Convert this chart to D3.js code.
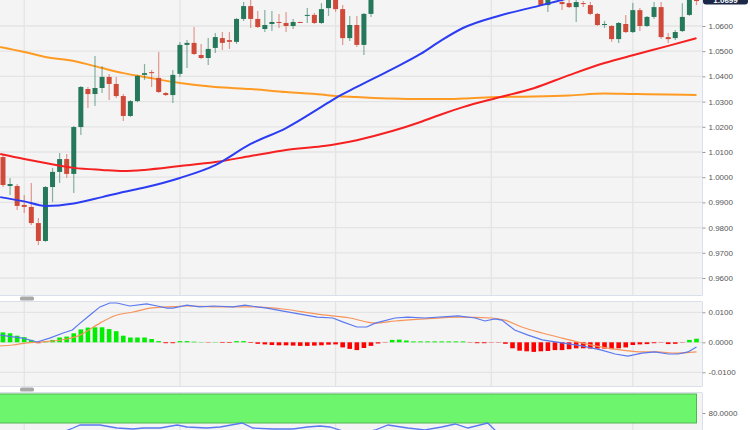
<!DOCTYPE html>
<html lang="en">

<head>
    <meta charset="UTF-8">
    <script src="https://d3js.org/d3.v7.min.js"></script>
    <title>EUR/USD daily</title>
    <style>
        body {
            margin: 0;
            background: #fff;
        }

        svg {
            display: block;
            font-family: "Liberation Sans", Arial, sans-serif;
        }

        .axis text {
            font-size: 8px;
            fill: #555;
        }

        .axis line {
            stroke: #999;
        }
    </style>
</head>

<body>
    <script>
        // daily candles (index 0 = first candle on the left)
        var opens = [
            1.0080, 0.9965, 0.9965, 0.9890, 0.9882, 0.9818, 0.9747, 0.9961, 1.0021, 1.0072,
            1.0013, 1.0199, 1.0350, 1.0330, 1.0354, 1.0398, 1.0370, 1.0322, 1.0243, 1.0302,
            1.0406, 1.0417, 1.0394, 1.0334, 1.0326, 1.0410, 1.0525, 1.0533, 1.0485, 1.0473,
            1.0513, 1.0552, 1.0544, 1.0537, 1.0628, 1.0679, 1.0628, 1.0588, 1.0608, 1.0616,
            1.0612, 1.0600, 1.0616, 1.0640, 1.0644, 1.0612, 1.0671, 1.0730, 1.0667, 1.0552,
            1.0604, 1.0525, 1.0648, 1.0745, 1.0770, 1.0752, 1.0785, 1.0822, 1.0858, 1.0830,
            1.0845, 1.0872, 1.0860, 1.0868, 1.0905, 1.0885, 1.0898, 1.0855, 1.0862, 1.0840,
            1.0915, 1.0870, 1.0810, 1.0775, 1.0790, 1.0755, 1.0745, 1.0683, 1.0720, 1.0695,
            1.0691, 1.0675, 1.0691, 1.0683, 1.0648, 1.0604, 1.0600, 1.0548, 1.0608, 1.0576,
            1.0663, 1.0600, 1.0636, 1.0675, 1.0556, 1.0552, 1.0580, 1.0644, 1.0735
        ];
        var highs = [
            1.0088, 0.9997, 0.9973, 0.9929, 0.9977, 0.9838, 0.9965, 1.0037, 1.0096, 1.0092,
            1.0203, 1.0362, 1.0358, 1.0481, 1.0441, 1.0410, 1.0398, 1.0330, 1.0306, 1.0406,
            1.0449, 1.0425, 1.0497, 1.0338, 1.0425, 1.0537, 1.0544, 1.0596, 1.0529, 1.0552,
            1.0572, 1.0576, 1.0576, 1.0632, 1.0695, 1.0710, 1.0660, 1.0663, 1.0660, 1.0648,
            1.0656, 1.0628, 1.0617, 1.0671, 1.0652, 1.0691, 1.0760, 1.0765, 1.0683, 1.0640,
            1.0640, 1.0652, 1.0770, 1.0790, 1.0805, 1.0798, 1.0835, 1.0870, 1.0875, 1.0862,
            1.0890, 1.0905, 1.0880, 1.0925, 1.0930, 1.0910, 1.0912, 1.0880, 1.0890, 1.0928,
            1.0932, 1.0885, 1.0835, 1.0800, 1.0805, 1.0790, 1.0770, 1.0745, 1.0760, 1.0712,
            1.0705, 1.0703, 1.0699, 1.0695, 1.0652, 1.0620, 1.0604, 1.0616, 1.0644, 1.0691,
            1.0671, 1.0640, 1.0695, 1.0695, 1.0572, 1.0584, 1.0690, 1.0735, 1.0740
        ];
        var lows = [
            0.9961, 0.9929, 0.9870, 0.9858, 0.9810, 0.9731, 0.9743, 0.9902, 0.9977, 0.9997,
            0.9937, 1.0167, 1.0275, 1.0283, 1.0334, 1.0306, 1.0314, 1.0223, 1.0239, 1.0298,
            1.0386, 1.0358, 1.0334, 1.0322, 1.0294, 1.0398, 1.0433, 1.0485, 1.0469, 1.0445,
            1.0493, 1.0505, 1.0509, 1.0529, 1.0620, 1.0592, 1.0592, 1.0576, 1.0580, 1.0592,
            1.0576, 1.0588, 1.0614, 1.0612, 1.0608, 1.0608, 1.0640, 1.0656, 1.0525, 1.0540,
            1.0517, 1.0485, 1.0636, 1.0725, 1.0740, 1.0730, 1.0770, 1.0800, 1.0810, 1.0795,
            1.0830, 1.0850, 1.0835, 1.0855, 1.0870, 1.0860, 1.0845, 1.0825, 1.0835, 1.0832,
            1.0860, 1.0800, 1.0765, 1.0745, 1.0740, 1.0730, 1.0679, 1.0656, 1.0708, 1.0663,
            1.0671, 1.0616, 1.0675, 1.0644, 1.0600, 1.0592, 1.0537, 1.0533, 1.0572, 1.0572,
            1.0580, 1.0596, 1.0628, 1.0548, 1.0533, 1.0544, 1.0576, 1.0640, 1.0683
        ];
        var closes = [
            0.9969, 0.9973, 0.9886, 0.9882, 0.9818, 0.9747, 0.9961, 1.0021, 1.0072, 1.0013,
            1.0199, 1.0358, 1.0330, 1.0354, 1.0398, 1.0370, 1.0322, 1.0243, 1.0302, 1.0402,
            1.0413, 1.0413, 1.0338, 1.0326, 1.0406, 1.0525, 1.0533, 1.0489, 1.0473, 1.0509,
            1.0556, 1.0533, 1.0537, 1.0628, 1.0679, 1.0628, 1.0596, 1.0604, 1.0616, 1.0612,
            1.0600, 1.0616, 1.0615, 1.0644, 1.0612, 1.0667, 1.0735, 1.0667, 1.0552, 1.0604,
            1.0525, 1.0648, 1.0745, 1.0770, 1.0752, 1.0785, 1.0822, 1.0858, 1.0830, 1.0845,
            1.0872, 1.0860, 1.0868, 1.0905, 1.0885, 1.0898, 1.0855, 1.0862, 1.0840, 1.0915,
            1.0870, 1.0810, 1.0775, 1.0790, 1.0755, 1.0745, 1.0683, 1.0720, 1.0735, 1.0687,
            1.0675, 1.0695, 1.0687, 1.0648, 1.0604, 1.0608, 1.0548, 1.0612, 1.0576, 1.0663,
            1.0600, 1.0636, 1.0675, 1.0556, 1.0548, 1.0576, 1.0636, 1.0720, 1.0699
        ];

        // moving averages, sampled at candle indices
        var maIdx = [-0.4, 3, 6, 10, 14, 17, 20, 25, 30, 35, 40, 45, 47, 50, 55, 59, 62, 65, 70, 75, 80, 85, 89, 94, 98];
        var sma50 = [0.9921, 0.9904, 0.9886, 0.9896, 0.9921, 0.9941, 0.9959, 0.9997, 1.0048, 1.0132, 1.0195, 1.0279, 1.0314,
            1.0358, 1.0429, 1.0489, 1.0544, 1.0592, 1.0640, 1.0675, 1.0711, 1.0751, 1.0775, 1.0790, 1.0802];
        var sma100 = [1.0092, 1.0072, 1.0056, 1.0037, 1.0029, 1.0025, 1.0029, 1.0044, 1.0060, 1.0084, 1.0108, 1.0123, 1.0131,
            1.0147, 1.0183, 1.0219, 1.0250, 1.0278, 1.0316, 1.0353, 1.0405, 1.0453, 1.0484, 1.0521, 1.0552];
        var sma200 = [1.0517, 1.0497, 1.0477, 1.0461, 1.0433, 1.0413, 1.0398, 1.0374, 1.0358, 1.0350, 1.0338, 1.0328, 1.0322,
            1.0318, 1.0312, 1.0310, 1.0310, 1.0312, 1.0318, 1.0320, 1.0324, 1.0332, 1.0330, 1.0328, 1.0326];

        // MACD panel
        var histogram = [
            0.0033, 0.0030, 0.0022, 0.0017, 0.0008, -0.0003, 0.0004, 0.0008, 0.0016, 0.0019,
            0.0030, 0.0043, 0.0049, 0.0050, 0.0050, 0.0044, 0.0037, 0.0022, 0.0016, 0.0016,
            0.0016, 0.0011, 0.0004, -0.0003, -0.0003, 0.0004, 0.0004, 0.0002, 0.0001, -0.0001,
            0.0001, -0.0002, -0.0002, 0.0004, 0.0004, -0.0002, -0.0005, -0.0007, -0.0009, -0.0010,
            -0.0010, -0.0011, -0.0012, -0.0012, -0.0011, -0.0010, -0.0008, -0.0007, -0.0017, -0.0022,
            -0.0026, -0.0019, -0.0012, -0.0004, -0.0001, 0.0008, 0.0009, 0.0006, 0.0003, 0.0003,
            0.0003, 0.0003, 0.0003, 0.0003, 0.0003, 0.0003, -0.0001, -0.0003, -0.0003, -0.0001,
            -0.0001, -0.0005, -0.0020, -0.0028, -0.0030, -0.0032, -0.0030, -0.0029, -0.0026, -0.0026,
            -0.0023, -0.0020, -0.0020, -0.0021, -0.0021, -0.0021, -0.0023, -0.0020, -0.0017, -0.0009,
            -0.0007, -0.0006, -0.0003, -0.0001, -0.0006, -0.0005, -0.0001, 0.0008, 0.0012
        ];
        var macdIdx = [-0.4, 1.4, 2.8, 4.8, 6.6, 8.5, 9.8, 10.9, 12.3, 13.7, 15.1, 16.1, 17.9, 20.3, 21.8, 23.2, 24, 26,
            27.8, 29.7, 32.5, 34.2, 35.9, 37.3, 39.6, 42, 44.4, 46.6, 48, 50, 51.4, 52.6, 55.4, 57.2, 59.6, 64.3, 66.7,
            68.1, 69.5, 70.5, 72.3, 74.2, 76.2, 79, 81.8, 84.6, 86.5, 88.3, 90.3, 92.1, 94, 95.4, 96.8, 98];
        var macdLine = [0.0024, 0.0018, 0.0014, 0.0001, 0.0014, 0.0031, 0.0041, 0.0064, 0.0091, 0.0118, 0.0131, 0.0131,
            0.0121, 0.0128, 0.0121, 0.0114, 0.0114, 0.0124, 0.0118, 0.0121, 0.0118, 0.0124, 0.0118, 0.0114, 0.0104,
            0.0094, 0.0084, 0.0081, 0.0068, 0.0051, 0.0051, 0.0064, 0.0081, 0.0084, 0.0081, 0.0088, 0.0081, 0.0071,
            0.0078, 0.0074, 0.0041, 0.0024, 0.0008, -0.0002, -0.0012, -0.0026, -0.0039, -0.0046, -0.0036, -0.0032,
            -0.0039, -0.0039, -0.0032, -0.0016];
        var signalIdx = [-0.4, 1.4, 3.4, 5.2, 9, 10.9, 13.7, 16.1, 18.4, 20.8, 23.2, 26, 30.2, 34.9, 39.6, 44.4, 49, 52.6,
            55.4, 59.6, 64.3, 69.1, 70.9, 73.3, 76.2, 79, 81.8, 84.6, 87.5, 90.3, 92.5, 95, 98];
        var signalLine = [-0.0012, -0.0009, -0.0002, 0.0001, 0.0011, 0.0024, 0.0064, 0.0091, 0.0101, 0.0114, 0.0118,
            0.0121, 0.0118, 0.0118, 0.0111, 0.0094, 0.0081, 0.0064, 0.0071, 0.0078, 0.0084, 0.0081, 0.0074, 0.0051,
            0.0031, 0.0014, -0.0002, -0.0016, -0.0026, -0.0032, -0.0032, -0.0036, -0.0032];

        // RSI panel
        var rsiIdx = [-0.4, 3.8, 5.9, 8.1, 9.9, 10.9, 13.7, 16.1, 18.4, 19.8, 22.2, 24.6, 26, 28.8, 30.7, 33.8, 35.3, 38.2,
            41, 43, 44.8, 46.2, 47.6, 49.7, 52.6, 54.4, 57.2, 59.6, 62, 63.9, 65.7, 68.5, 69.5, 71.6, 75.9, 84.4, 91.4, 98];
        var rsiLine = [53, 48, 53, 60, 65, 68, 68, 65, 64, 65, 65, 68, 66, 65, 66, 70, 65, 64, 64, 66, 67, 66, 63, 58,
            63, 68, 65, 63, 66, 69, 65, 70, 63, 48, 43, 38, 43, 53];

        // ticks and month boundaries
        var priceTicks = [0.96, 0.97, 0.98, 0.99, 1.00, 1.01, 1.02, 1.03, 1.04, 1.05, 1.06];
        var macdTicks = [-0.01, 0, 0.01];
        var rsiTicks = [80];
        var monthIdx = [3, 25, 47, 69, 89];

        var width = 750,
            height = 430,
            plotRight = 702;   // right edge of all three panels

        var panels = {
            main: { top: 0, bottom: 295 },
            macd: { top: 302, bottom: 386 },
            rsi: { top: 393, bottom: 440 }
        };

        var xScale = d3.scaleLinear().domain([0, 98]).range([3, 696.5]);
        var yPrice = d3.scaleLinear().domain([0.95, 1.07]).range([303.2, 0.8]);
        var yMacd = d3.scaleLinear().domain([-0.01, 0.01]).range([372.3, 312.3]);
        var yRsi = d3.scaleLinear().domain([70, 100]).range([423, 393]);

        var vis = d3.select("body").append("svg")
            .attr("width", width)
            .attr("height", height);

        var defs = vis.append("defs");

        // background, grid and clip per panel
        Object.keys(panels).forEach(function (key) {
            var p = panels[key];
            defs.append("clipPath").attr("id", "clip-" + key)
                .append("rect")
                .attr("x", 0).attr("y", p.top)
                .attr("width", plotRight).attr("height", p.bottom - p.top);
            vis.append("rect")
                .attr("x", 0).attr("y", p.top)
                .attr("width", plotRight).attr("height", p.bottom - p.top)
                .attr("fill", "#f4f4f4");
            vis.append("g")
                .attr("clip-path", "url(#clip-" + key + ")")
                .selectAll("line")
                .data(monthIdx)
                .enter().append("line")
                .attr("x1", function (d) { return xScale(d); })
                .attr("x2", function (d) { return xScale(d); })
                .attr("y1", p.top).attr("y2", p.bottom)
                .attr("stroke", "#e4e4e4")
                .attr("stroke-width", 1.3);
        });

        function hGrid(ticks, scale, panel) {
            vis.append("g")
                .attr("clip-path", "url(#clip-" + panel + ")")
                .selectAll("line")
                .data(ticks)
                .enter().append("line")
                .attr("x1", 0).attr("x2", plotRight)
                .attr("y1", function (d) { return scale(d); })
                .attr("y2", function (d) { return scale(d); })
                .attr("stroke", "#e4e4e4")
                .attr("stroke-width", 1.3);
        }
        hGrid(priceTicks, yPrice, "main");
        hGrid(macdTicks, yMacd, "macd");

        // ---- main panel: moving averages and candles
        var main = vis.append("g").attr("clip-path", "url(#clip-main)");

        var maLine = d3.line()
            .x(function (d) { return xScale(d[0]); })
            .y(function (d) { return yPrice(d[1]); })
            .curve(d3.curveMonotoneX);

        main.append("path").datum(d3.zip(maIdx, sma200))
            .attr("d", maLine).attr("fill", "none")
            .attr("stroke", "#ff9a22").attr("stroke-width", 2);

        var candles = d3.range(opens.length).map(function (i) {
            return { i: i, o: opens[i], h: highs[i], l: lows[i], c: closes[i] };
        });
        var up = "#26785a", down = "#d04a3a";

        main.selectAll("line.wick")
            .data(candles)
            .enter().append("line")
            .attr("class", "wick")
            .attr("x1", function (d) { return xScale(d.i); })
            .attr("x2", function (d) { return xScale(d.i); })
            .attr("y1", function (d) { return yPrice(d.h); })
            .attr("y2", function (d) { return yPrice(d.l); })
            .attr("stroke", function (d) { return d.c >= d.o ? up : down; })
            .attr("stroke-opacity", 0.55)
            .attr("stroke-width", 1.2);

        main.selectAll("rect.body")
            .data(candles)
            .enter().append("rect")
            .attr("class", "body")
            .attr("x", function (d) { return xScale(d.i) - 2.5; })
            .attr("width", 5)
            .attr("y", function (d) { return yPrice(Math.max(d.o, d.c)); })
            .attr("height", function (d) { return Math.max(1, Math.abs(yPrice(d.o) - yPrice(d.c))); })
            .attr("fill", function (d) { return d.c >= d.o ? up : down; });

        main.append("path").datum(d3.zip(maIdx, sma100))
            .attr("d", maLine).attr("fill", "none")
            .attr("stroke", "#f72020").attr("stroke-width", 2);
        main.append("path").datum(d3.zip(maIdx, sma50))
            .attr("d", maLine).attr("fill", "none")
            .attr("stroke", "#2b3cf2").attr("stroke-width", 2);

        // ---- MACD panel
        var macd = vis.append("g").attr("clip-path", "url(#clip-macd)");

        macd.selectAll("rect")
            .data(histogram)
            .enter().append("rect")
            .attr("x", function (d, i) { return xScale(i) - 2.3; })
            .attr("width", 4.6)
            .attr("y", function (d) { return Math.min(yMacd(d), yMacd(0)); })
            .attr("height", function (d) { return Math.abs(yMacd(d) - yMacd(0)); })
            .attr("fill", function (d) { return d >= 0 ? "#00ee00" : "#ff0000"; });

        macd.append("path").datum(d3.zip(signalIdx, signalLine))
            .attr("d", d3.line()
                .x(function (d) { return xScale(d[0]); })
                .y(function (d) { return yMacd(d[1]); })
                .curve(d3.curveMonotoneX))
            .attr("fill", "none").attr("stroke", "#f7945a").attr("stroke-width", 1.2);

        macd.append("path").datum(d3.zip(macdIdx, macdLine))
            .attr("d", d3.line()
                .x(function (d) { return xScale(d[0]); })
                .y(function (d) { return yMacd(d[1]); }))
            .attr("fill", "none").attr("stroke", "#5a78f0").attr("stroke-width", 1.2);

        // ---- RSI panel: overbought band and line
        var rsi = vis.append("g").attr("clip-path", "url(#clip-rsi)");

        rsi.append("rect")
            .attr("x", -1).attr("y", yRsi(100) + 1)
            .attr("width", xScale(98) + 1)
            .attr("height", yRsi(70) - yRsi(100) - 1)
            .attr("fill", "#6ef56e")
            .attr("stroke", "#52b552")
            .attr("stroke-width", 1);

        rsi.append("path").datum(d3.zip(rsiIdx, rsiLine))
            .attr("d", d3.line()
                .x(function (d) { return xScale(d[0]); })
                .y(function (d) { return yRsi(d[1]); }))
            .attr("fill", "none").attr("stroke", "#5a78f0").attr("stroke-width", 1.3);

        // ---- panel borders and handles
        [panels.main.bottom + 0.5, panels.macd.top - 0.5, panels.macd.bottom + 0.5, panels.rsi.top - 0.5].forEach(function (y) {
            vis.append("line")
                .attr("x1", 0).attr("x2", plotRight + 0.5)
                .attr("y1", y).attr("y2", y)
                .attr("stroke", "#d9e0ec");
        });
        Object.keys(panels).forEach(function (key) {
            var p = panels[key];
            vis.append("line")
                .attr("x1", plotRight + 0.5).attr("x2", plotRight + 0.5)
                .attr("y1", p.top).attr("y2", p.bottom)
                .attr("stroke", "#d9e0ec");
        });
        [296.5, 387.5].forEach(function (y) {
            vis.append("rect")
                .attr("x", 20).attr("y", y)
                .attr("width", 14).attr("height", 4)
                .attr("rx", 1.5)
                .attr("fill", "#a8a8a8");
        });

        // ---- right-hand axes
        function rightAxis(scale, ticks) {
            vis.append("g")
                .attr("class", "axis")
                .attr("transform", "translate(" + (plotRight + 0.5) + ",0)")
                .call(d3.axisRight(scale)
                    .tickValues(ticks)
                    .tickSize(3)
                    .tickPadding(3)
                    .tickFormat(function (d) { return d.toFixed(4); }))
                .call(function (g) { g.select(".domain").remove(); });
        }
        rightAxis(yPrice, priceTicks);
        rightAxis(yMacd, macdTicks);
        rightAxis(yRsi, rsiTicks);

        // current price tag, mostly above the top edge as in the source
        var last = closes[closes.length - 1];
        vis.append("rect")
            .attr("x", plotRight + 1).attr("y", yPrice(last) - 10)
            .attr("width", 45).attr("height", 13.5)
            .attr("rx", 3)
            .attr("fill", "#1c2848");
        vis.append("text")
            .attr("x", plotRight + 23.5).attr("y", yPrice(last) + 1.5)
            .attr("text-anchor", "middle")
            .attr("font-size", 8)
            .attr("font-weight", "bold")
            .attr("fill", "#fff")
            .text(last.toFixed(4));
    </script>
</body>

</html>
